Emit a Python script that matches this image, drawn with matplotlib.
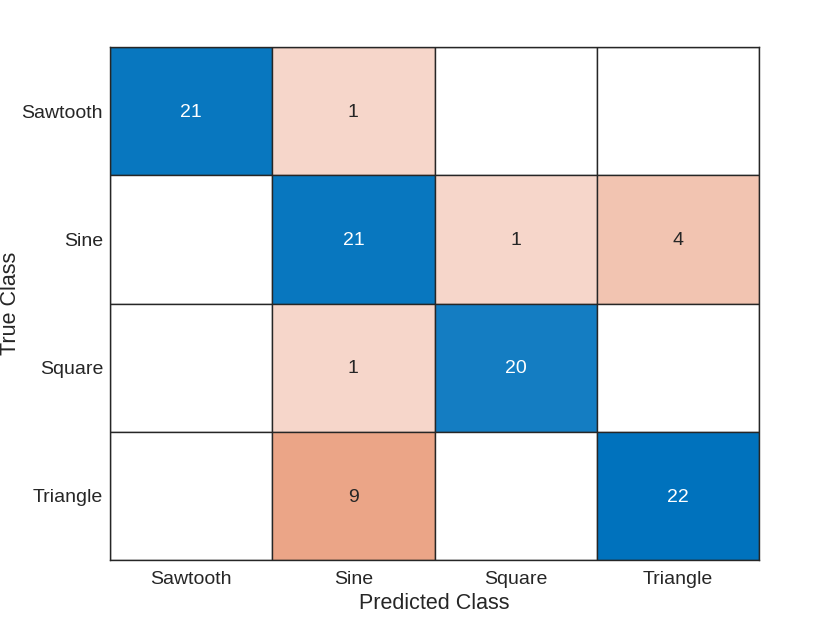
import matplotlib
matplotlib.use("Agg")
import matplotlib.pyplot as plt
import numpy as np
from matplotlib.colors import LinearSegmentedColormap, Normalize

plt.rcParams["font.family"] = ["Liberation Sans", "DejaVu Sans"]

classes = ["Sawtooth", "Sine", "Square", "Triangle"]
counts = np.array([
    [21, 1, 0, 0],
    [0, 21, 1, 4],
    [0, 1, 20, 0],
    [0, 9, 0, 22],
])

# colour ramps for correct (diagonal) and wrong (off-diagonal) predictions
diag_cmap = LinearSegmentedColormap.from_list(
    "diag", [(0.0, (0.93, 0.96, 0.99)), (0.909, (20 / 255, 125 / 255, 194 / 255)),
             (0.955, (8 / 255, 119 / 255, 191 / 255)), (1.0, (0 / 255, 114 / 255, 189 / 255))])
off_cmap = LinearSegmentedColormap.from_list(
    "off", [(247 / 255, 220 / 255, 210 / 255), (235 / 255, 165 / 255, 135 / 255)])

n = len(classes)
diag_norm = Normalize(vmin=0, vmax=counts.diagonal().max())
off_vals = counts[~np.eye(n, dtype=bool)]
off_norm = Normalize(vmin=0, vmax=off_vals.max())

fig = plt.figure(figsize=(8.4, 6.3), dpi=100)
ax = fig.add_axes([110 / 840, 1 - 560 / 630, 649 / 840, 513 / 630])

edge = "#262626"
for i in range(n):
    for j in range(n):
        v = counts[i, j]
        if v == 0:
            color = "white"
        elif i == j:
            color = diag_cmap(diag_norm(v))
        else:
            color = off_cmap(off_norm(v))
        ax.add_patch(plt.Rectangle((j - 0.5, i - 0.5), 1, 1, facecolor=color,
                                   edgecolor=edge, linewidth=1.0))
        if v > 0:
            ax.text(j, i + 0.01, str(v), ha="center", va="center", fontsize=14,
                    color="white" if i == j else "#262626")

ax.set_xlim(-0.5, n - 0.5)
ax.set_ylim(n - 0.5, -0.5)
ax.set_xticks(range(n), classes)
ax.set_yticks(range(n), classes)
ax.tick_params(length=0, labelsize=14, colors="#262626")
ax.tick_params(axis="x", pad=8)
ax.tick_params(axis="y", pad=5)
for s in ax.spines.values():
    s.set_color(edge)
    s.set_linewidth(1.0)
ax.set_xlabel("Predicted Class", fontsize=15.5, color="#262626")
ax.xaxis.set_label_coords(0.5, -(593 - 560) / 513)
ax.set_ylabel("True Class", fontsize=15.5, color="#262626", va="center")
ax.yaxis.set_label_coords(-(110 - 11) / 649, 0.5)

fig.savefig("out.png", dpi=100)
